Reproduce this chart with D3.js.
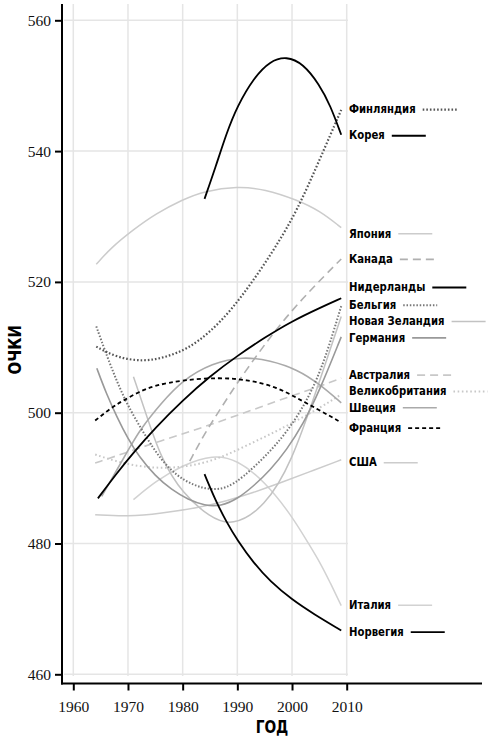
<!DOCTYPE html>
<html>
<head>
<meta charset="utf-8">
<script src="https://cdn.jsdelivr.net/npm/d3@7"></script>
<style>
  html, body { margin: 0; padding: 0; background: #fff; }
  svg { display: block; }
  .tick text { font-family: 'Liberation Serif', 'DejaVu Serif', serif; font-size: 15.5px; fill: #111; }
  .lab { font-family: 'Liberation Sans Narrow', 'DejaVu Sans Condensed', 'Arial Narrow', sans-serif; font-weight: bold; font-size: 13px; fill: #000; }
  .ttl { font-family: 'Liberation Sans Narrow', 'DejaVu Sans Condensed', sans-serif; font-weight: bold; font-size: 18px; fill: #000; }
</style>
</head>
<body>
<div id="chart"></div>
<script>
// --- data ---
const countries = ['Финляндия', 'Корея', 'Япония', 'Канада', 'Нидерланды', 'Бельгия',
  'Новая Зеландия', 'Германия', 'Австралия', 'Великобритания', 'Швеция', 'Франция',
  'США', 'Италия', 'Норвегия'];

// score where each label sits at the right edge
const labelAt = [546.5, 542.5, 527.5, 523.6, 519.3, 516.6, 514.1, 511.6, 505.9, 503.4, 500.9, 497.8, 492.5, 470.7, 466.6];

const finland = [[1964.2, 510.1], [1968, 508.4], [1973, 507.8], [1977, 508.5], [1981, 509.8], [1985, 512.3],
  [1989, 515.8], [1993, 520.3], [1997, 525.3], [2001, 531], [2005, 538.6], [2009, 546.3]];
const korea = [[1984, 532.7], [1986, 537.5], [1988, 542.7], [1990, 546.9], [1993, 551.2], [1996, 553.8],
  [1999, 554.5], [2002, 553.4], [2005, 550.2], [2007, 547], [2009, 542.5]];
const japan = [[1964.2, 522.7], [1967, 525.3], [1971, 528], [1975, 530.4], [1980, 532.6], [1984, 533.9],
  [1990, 534.6], [1995, 534.2], [2001, 532.5], [2005, 530.9], [2009, 528.3]];
const canada = [[1981.3, 492.6], [1984, 496.8], [1987, 500.7], [1990, 504.6], [1994, 509.3], [1998, 513.7],
  [2002, 517.5], [2006, 521], [2009, 523.5]];
const netherlands = [[1964.5, 486.9], [1968, 490.8], [1971, 493.9], [1975, 497.7], [1980, 501.9], [1985, 505.6],
  [1990, 508.7], [1995, 511.5], [2000, 514], [2005, 516], [2009, 517.5]];
const belgium = [[1964.2, 513.2], [1966, 509], [1968, 504.7], [1970, 501], [1973, 496.7], [1976, 492.8],
  [1979, 490.3], [1982, 488.9], [1985, 488.2], [1988, 488.4], [1991, 490.1], [1995, 493.2], [1999, 496.9],
  [2003, 502.1], [2006, 508], [2009, 516.3]];
const newZealand = [[1971, 505.5], [1973, 500.6], [1976, 493], [1980, 487.6], [1985, 484], [1989, 482.6],
  [1995, 485.5], [2000, 492.5], [2004.5, 503.5], [2009, 514.7]];
const germany = [[1964.3, 506.8], [1966, 503], [1968, 499.3], [1970, 496], [1972, 493.3], [1975, 490.3],
  [1978, 488.2], [1981, 486.7], [1984, 485.8], [1987, 485.7], [1990, 486.8], [1993, 488.8], [1996, 491.2],
  [1999, 494.3], [2002, 498.2], [2005, 503.3], [2009, 511.6]];
const australia = [[1964, 492.3], [1970, 494], [1976, 495.7], [1982, 497.3], [1988, 499], [1994, 500.8],
  [2000, 502.6], [2005, 504], [2009, 505.3]];
const britain = [[1964, 493.6], [1968, 492.5], [1972, 491.8], [1976, 491.5], [1980, 491.7], [1984, 492.3],
  [1988, 493.5], [1992, 495.1], [1996, 496.7], [2000, 498.4], [2005, 500.7], [2009, 502.8]];
const sweden = [[1965.2, 487.2], [1968, 491.3], [1970.4, 494.8], [1972.2, 497.4], [1976, 501.4], [1980, 505],
  [1985.4, 507.6], [1991, 508.6], [1996, 508], [2001, 506.6], [2005, 504.4], [2009, 501.5]];
const france = [[1964, 498.8], [1967, 500.8], [1969, 501.8], [1972, 503.2], [1975, 504.2], [1980, 505],
  [1987, 505.4], [1992, 505], [1997, 504], [2001, 502.2], [2005, 500.4], [2009, 498.5]];
const usa = [[1964, 484.4], [1970, 484.1], [1976, 484.6], [1983, 485.5], [1988, 486.5], [1993, 487.8],
  [1998, 489.3], [2003, 490.9], [2009, 492.8]];
const italy = [[1971, 486.7], [1975, 489.5], [1980, 492], [1985.6, 493.6], [1990, 492.8], [1995, 489.5],
  [2000, 484.2], [2003, 480], [2005, 477.3], [2007, 474], [2009, 470.5]];
const norway = [[1984, 490.6], [1986, 486.6], [1988, 483.3], [1990, 480.5], [1993, 477], [1996, 474.2],
  [2000, 471.4], [2004, 469.2], [2009, 466.7]];

const xTicks = [1960, 1970, 1980, 1990, 2000, 2010];
const yTicks = [460, 480, 500, 520, 540, 560];

const scores = [finland, korea, japan, canada, netherlands, belgium, newZealand, germany,
  australia, britain, sweden, france, usa, italy, norway];

// line look per country
const styles = {
  'Финляндия':      { color: '#555', dash: '1.6 2', width: 2.2 },
  'Корея':          { color: '#000', dash: null, width: 1.8 },
  'Япония':         { color: '#ccc', dash: null, width: 1.5 },
  'Канада':         { color: '#b0b0b0', dash: '8 5', width: 1.6 },
  'Нидерланды':     { color: '#000', dash: null, width: 1.8 },
  'Бельгия':        { color: '#777', dash: '1.5 1.8', width: 2 },
  'Новая Зеландия': { color: '#c2c2c2', dash: null, width: 1.5 },
  'Германия':       { color: '#999', dash: null, width: 1.6 },
  'Австралия':      { color: '#c8c8c8', dash: '8 5', width: 1.6 },
  'Великобритания': { color: '#c8c8c8', dash: '1.6 2.6', width: 2 },
  'Швеция':         { color: '#aaa', dash: null, width: 1.6 },
  'Франция':        { color: '#000', dash: '4 3', width: 1.8 },
  'США':            { color: '#ccc', dash: null, width: 1.5 },
  'Италия':         { color: '#d2d2d2', dash: null, width: 1.5 },
  'Норвегия':       { color: '#000', dash: null, width: 1.8 }
};

// --- layout ---
const W = 500, H = 748;
const axisX = 62, axisY = 683.5, axisRight = 482;
const panel = { left: 64, right: 348, top: 4, bottom: 676 };
const squeeze = 0.865;   // labels are set in a condensed face

const x = d3.scaleLinear().domain([1960, 2010]).range([73.3, 346.7]);
const y = d3.scaleLinear().domain([460, 560]).range([674.3, 20.3]);

const svg = d3.select('#chart').append('svg')
  .attr('width', W)
  .attr('height', H);

// grid
const grid = svg.append('g').attr('stroke', '#e5e5e5').attr('stroke-width', 1.5);
grid.selectAll('line.h').data(yTicks).join('line')
  .attr('x1', panel.left).attr('x2', panel.right)
  .attr('y1', d => y(d)).attr('y2', d => y(d));
grid.selectAll('line.v').data(xTicks).join('line')
  .attr('y1', panel.top).attr('y2', panel.bottom)
  .attr('x1', d => x(d)).attr('x2', d => x(d));

// smoothed lines
const lineGen = d3.line()
  .x(d => x(d[0]))
  .y(d => y(d[1]))
  .curve(d3.curveBasis);

// draw light ones first so the dark ones stay on top
const drawOrder = d3.range(countries.length).sort((a, b) => {
  const la = d3.hsl(styles[countries[a]].color).l, lb = d3.hsl(styles[countries[b]].color).l;
  return lb - la;
});

svg.append('g').attr('fill', 'none')
  .selectAll('path')
  .data(drawOrder)
  .join('path')
  .attr('d', i => lineGen(scores[i]))
  .attr('stroke', i => styles[countries[i]].color)
  .attr('stroke-width', i => styles[countries[i]].width)
  .attr('stroke-dasharray', i => styles[countries[i]].dash);

// labels + keys at the right
const labels = svg.append('g')
  .selectAll('g')
  .data(countries)
  .join('g')
  .attr('transform', (d, i) => `translate(349,${y(labelAt[i])})`);

labels.append('text')
  .attr('class', 'lab')
  .attr('dy', '0.36em')
  .attr('transform', `scale(${squeeze},1)`)
  .text(d => d);

labels.each(function (d) {
  const g = d3.select(this);
  const tw = g.select('text').node().getComputedTextLength() * squeeze;
  const s = styles[d];
  g.append('line')
    .attr('x1', tw + 7).attr('x2', tw + 41)
    .attr('y1', 1).attr('y2', 1)
    .attr('stroke', s.color)
    .attr('stroke-width', s.width)
    .attr('stroke-dasharray', s.dash);
});

// axes
const gy = svg.append('g')
  .attr('transform', `translate(${axisX},0)`)
  .call(d3.axisLeft(y).tickValues(yTicks).tickSize(7).tickPadding(4).tickFormat(d3.format('d')));
gy.select('.domain').remove();
gy.selectAll('.tick line').attr('stroke', '#000').attr('stroke-width', 2);

const gx = svg.append('g')
  .attr('transform', `translate(0,${axisY})`)
  .call(d3.axisBottom(x).tickValues(xTicks).tickSize(7).tickPadding(10).tickFormat(d3.format('d')));
gx.select('.domain').remove();
gx.selectAll('.tick line').attr('stroke', '#000').attr('stroke-width', 2);

svg.append('line')
  .attr('x1', axisX).attr('x2', axisX)
  .attr('y1', panel.top).attr('y2', axisY + 1)
  .attr('stroke', '#000').attr('stroke-width', 2);
svg.append('line')
  .attr('x1', axisX - 1).attr('x2', axisRight)
  .attr('y1', axisY).attr('y2', axisY)
  .attr('stroke', '#000').attr('stroke-width', 2);

// titles
svg.append('text')
  .attr('class', 'ttl')
  .attr('transform', `translate(${(axisX + axisRight) / 2},733) scale(0.85,1)`)
  .attr('text-anchor', 'middle')
  .text('ГОД');

svg.append('text')
  .attr('class', 'ttl')
  .attr('transform', `translate(21,${(panel.top + axisY) / 2 + 6}) rotate(-90) scale(0.92,1)`)
  .attr('text-anchor', 'middle')
  .text('ОЧКИ');
</script>
</body>
</html>
